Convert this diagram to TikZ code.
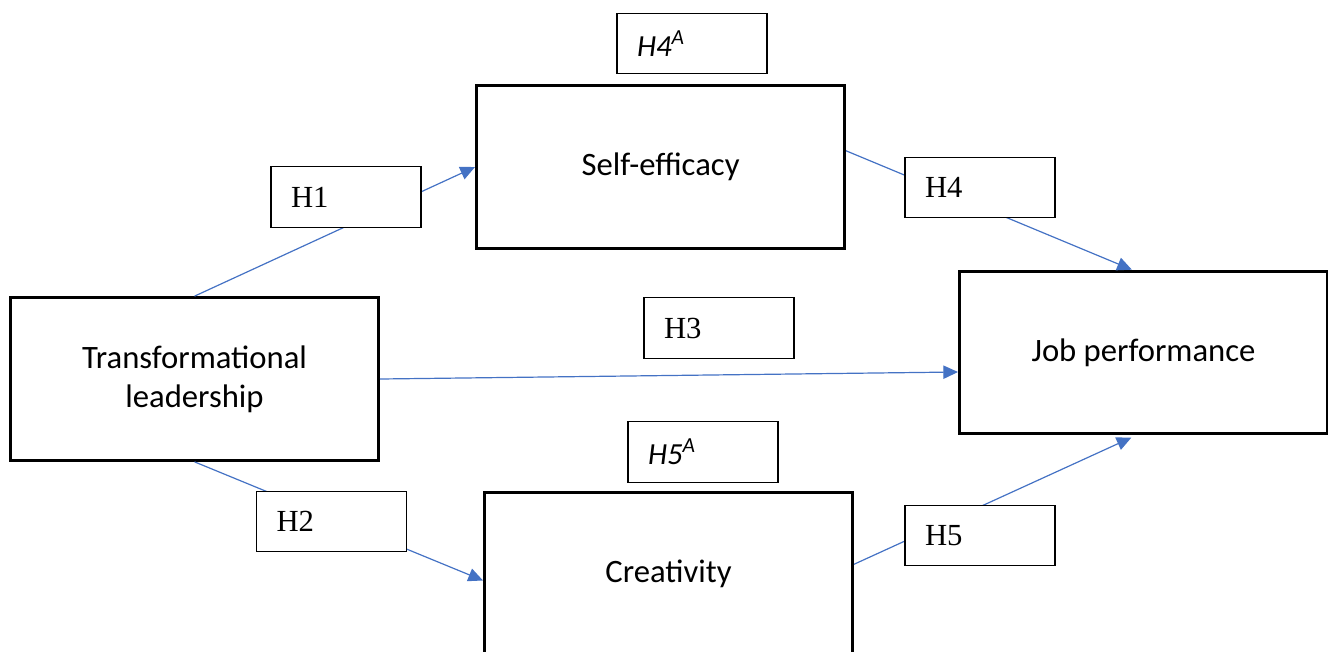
\documentclass[tikz,border=0pt]{standalone}
\usepackage{fontspec}
\setmainfont{Carlito}
\newfontfamily\timesfont{Liberation Serif}
\usetikzlibrary{arrows.meta}
\definecolor{linkblue}{HTML}{4472C4}
\tikzset{
  mainbox/.style={draw, line width=2.25pt, align=center, minimum width=276pt, minimum height=122pt, font=\fontsize{24.5}{29.5}\selectfont},
  hbox/.style={draw, fill=white, line width=0.9pt, align=left, text width=82.5pt, inner xsep=15pt, minimum height=45.5pt, font=\fontsize{23}{27}\selectfont},
  link/.style={linkblue, line width=0.9pt, -{Triangle[length=11pt,width=10pt]}}
}
\begin{document}
\begin{tikzpicture}[x=0.75pt, y=-0.75pt]
			\useasboundingbox (0,0) rectangle (1328,651);
			\node[mainbox] (tl) at (194.5,379) {Transformational\\leadership};
			\node[mainbox] (se) at (660.5,167) {Self-efficacy};
			\node[mainbox] (jp) at (1143.5,352.5) {Job performance};
			\node[mainbox] (cr) at (668.5,574) {Creativity};
			% paths
			\draw[link] (tl.north) -- (se.west);
			\draw[link] (se.5) -- (jp.98);
			\draw[link] (tl.east) -- (jp.186);
			\draw[link] (tl.south) -- (cr.182);
			\draw[link, shorten >=4pt] (cr.3) -- (jp.265);
			% hypothesis labels
			\node[hbox] (h4a) at (692,43.5) {\textit{H4\textsuperscript{A}}};
			\node[hbox] (h1) at (346,197) {\timesfont H1};
			\node[hbox] (h4) at (980,187.5) {\timesfont H4};
			\node[hbox] (h3) at (719,328) {\timesfont H3};
			\node[hbox] (h5a) at (703,452) {\textit{H5\textsuperscript{A}}};
			\node[hbox] (h2) at (331.5,521.5) {\timesfont H2};
			\node[hbox] (h5) at (980,535.5) {\timesfont H5};
\end{tikzpicture}
\end{document}
